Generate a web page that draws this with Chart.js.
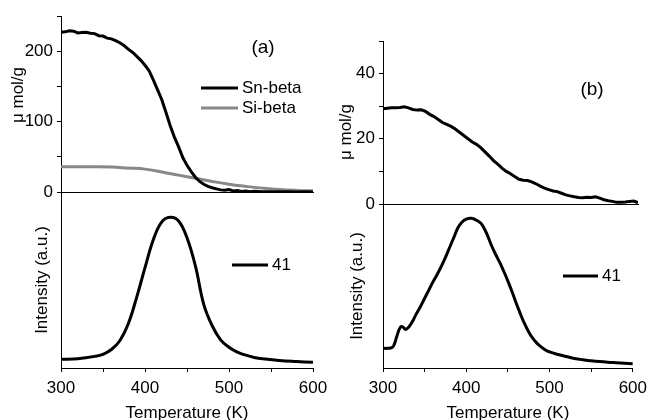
<!DOCTYPE html>
<html>
<head>
<meta charset="utf-8">
<script src="https://cdn.jsdelivr.net/npm/chart.js@4/dist/chart.umd.min.js"></script>
<style>
  body { margin: 0; background: #fff; }
  #wrap { position: relative; width: 653px; height: 420px; overflow: hidden; }
  .panel { position: absolute; left: 0; top: 0; width: 653px; height: 420px; }
</style>
</head>
<body>
<div id="wrap">
  <div class="panel"><canvas id="a-uptake"></canvas></div>
  <div class="panel"><canvas id="a-tpd"></canvas></div>
  <div class="panel"><canvas id="b-uptake"></canvas></div>
  <div class="panel"><canvas id="b-tpd"></canvas></div>
</div>
<script>
// Data (temperature in K)
const snTemp = [300, 305, 310, 315, 320, 325, 330, 335, 340, 345, 350, 355, 360, 365, 370, 375, 380, 385, 390, 395, 400, 405, 410, 415, 420, 425, 430, 435, 440, 445, 450, 455, 460, 465, 470, 475, 480, 485, 490, 495, 500, 505, 510, 515, 520, 525, 530, 540, 550, 560, 570, 580, 590, 600];
const snBeta = [227, 227.5, 229, 228.5, 226, 226.5, 227, 225.5, 225, 222, 221.5, 218.5, 217.5, 215, 212, 208, 203, 198.5, 193, 187, 180, 172, 159, 145, 131, 113, 94, 78, 64, 49, 38, 29, 21, 15, 11, 8, 6, 4.5, 3, 2.5, 3.5, 1.5, 2, 0.8, 1.5, 0.5, 1, 0.3, 0.5, 0.2, 0.3, 0, 0.2, 0];

const siTemp = [300, 320, 340, 360, 380, 400, 420, 440, 460, 480, 500, 520, 540, 560, 580, 600];
const siBeta = [36, 36, 36, 35.5, 34, 32.5, 28.5, 24, 19.5, 15, 11, 8, 5.5, 3.5, 2.3, 1.6];

const tpdATemp = [300, 320, 340, 350, 360, 370, 380, 390, 400, 410, 420, 430, 440, 450, 460, 470, 480, 490, 500, 510, 520, 530, 540, 560, 580, 600];
const tpdA = [4.9, 5.3, 6.6, 7.8, 10.5, 15.5, 25, 40, 57, 73, 83, 85.6, 83.5, 74, 58, 36, 24, 16, 11.8, 9, 7.3, 6, 5.2, 4.3, 3.7, 3.2];

const uptakeBTemp = [300, 305, 310, 315, 320, 325, 330, 335, 340, 345, 350, 355, 360, 365, 370, 375, 380, 385, 390, 395, 400, 405, 410, 415, 420, 425, 430, 435, 440, 445, 450, 455, 460, 465, 470, 475, 480, 485, 490, 495, 500, 505, 510, 515, 520, 525, 530, 535, 540, 545, 550, 555, 560, 565, 570, 575, 580, 585, 590, 595, 600];
const uptakeB = [29.2, 29.4, 29.5, 29.5, 29.6, 29.8, 29.5, 29, 28.8, 28.9, 28.4, 27.5, 26.8, 25.9, 25, 24.4, 23.8, 23, 22, 21, 20, 19, 18.3, 17.3, 16, 14.7, 13.3, 12.2, 11, 10, 9.3, 8.4, 7.6, 7.3, 7.2, 6.8, 6.2, 5.5, 4.9, 4.4, 4, 3.8, 3.3, 2.8, 2.5, 2.2, 2, 1.9, 2.1, 2, 2.2, 1.8, 1.3, 1, 0.8, 0.5, 0.5, 0.6, 0.8, 0.9, 0.4];

const tpdBTemp = [300, 305, 311, 314, 317, 321, 324, 327, 331, 335, 340, 345, 350, 355, 360, 365, 370, 375, 380, 385, 390, 395, 400, 406, 412, 418, 424, 430, 435, 440, 445, 450, 455, 460, 465, 470, 475, 480, 485, 490, 495, 500, 510, 520, 530, 540, 550, 560, 570, 580, 590, 600];
const tpdB = [12, 12, 12.5, 15, 20, 25, 25, 23.5, 25, 28, 33, 37.5, 42.5, 47.5, 52.5, 57, 62, 67.5, 73.5, 79.5, 85.5, 89, 90.8, 91.3, 90.2, 88, 82.5, 75, 69.5, 64.5, 59, 53, 46.5, 39.5, 33, 27, 22, 18, 15, 12.8, 11, 9.8, 8.2, 7, 5.8, 5, 4.4, 3.9, 3.5, 3.2, 2.9, 2.6];

const tempTicks = [300, 400, 500, 600];

const FONT = "'Liberation Sans', Arial, sans-serif";
Chart.defaults.font.family = FONT;
Chart.defaults.color = '#000';

function points(xs, ys) {
    return xs.map((x, i) => ({ x: x, y: ys[i] }));
}

// Line sample + label for each dataset, placed inside the plot
const insetLegend = {
    id: 'insetLegend',
    afterDraw(chart, args, opts) {
        if (opts.x === undefined) return;
        const ctx = chart.ctx;
        ctx.save();
        ctx.font = '17px ' + FONT;
        ctx.textBaseline = 'middle';
        chart.data.datasets.forEach((ds, i) => {
            const y = opts.y + i * (opts.rowGap || 0);
            ctx.strokeStyle = ds.borderColor;
            ctx.lineWidth = 3;
            ctx.beginPath();
            ctx.moveTo(opts.x, y);
            ctx.lineTo(opts.x + opts.lineLen, y);
            ctx.stroke();
            ctx.fillStyle = '#000';
            ctx.fillText(ds.label, opts.x + opts.lineLen + 4, y);
        });
        ctx.restore();
    }
};

// Free text (panel letters, rotated unit labels)
const notes = {
    id: 'notes',
    afterDraw(chart, args, opts) {
        if (!opts.items) return;
        const ctx = chart.ctx;
        opts.items.forEach(n => {
            ctx.save();
            ctx.font = n.size + 'px ' + FONT;
            ctx.fillStyle = '#000';
            ctx.textAlign = 'center';
            ctx.textBaseline = 'middle';
            ctx.translate(n.x, n.y);
            if (n.rotate) ctx.rotate(-Math.PI / 2);
            ctx.fillText(n.text, 0, 0);
            ctx.restore();
        });
    }
};

Chart.register(insetLegend, notes);

function lineSet(label, xs, ys, color, smooth) {
    return {
        label: label,
        data: points(xs, ys),
        borderColor: color,
        borderWidth: 3,
        pointRadius: 0,
        fill: false,
        tension: smooth ? 0.4 : 0
    };
}

// top panels: value axis with ticks, only a base line along x
function uptakeScales(yMax, step, labelEvery, yWidth) {
    return {
        x: {
            type: 'linear', min: 300, max: 600,
            ticks: { display: false },
            grid: { display: false },
            border: { display: true, color: '#000', width: 1 },
            afterFit: s => { s.height = 0; }
        },
        y: {
            min: 0, max: yMax,
            ticks: {
                stepSize: step,
                padding: 4,
                font: { size: 17 },
                callback: v => (v % labelEvery === 0 ? v : '')
            },
            grid: { drawOnChartArea: false, drawTicks: true, tickLength: 4, color: '#000' },
            border: { display: true, color: '#000', width: 1 },
            afterFit: s => { s.width = yWidth; }
        }
    };
}

// bottom panels: temperature axis, intensity axis without ticks
function tpdScales(yWidth) {
    return {
        x: {
            type: 'linear', min: 300, max: 600,
            ticks: {
                stepSize: 50,
                padding: 6,
                autoSkip: false,
                maxRotation: 0,
                font: { size: 17 },
                callback: v => (tempTicks.includes(v) ? v : '')
            },
            grid: { drawOnChartArea: false, drawTicks: true, tickLength: 4, color: '#000' },
            border: { display: true, color: '#000', width: 1 },
            title: {
                display: true, text: 'Temperature (K)',
                font: { size: 17, lineHeight: 0.8 },
                padding: { top: 0, bottom: 0 }
            },
            afterFit: s => { s.height = 52; }
        },
        y: {
            min: 0, max: 100,
            ticks: { display: false },
            grid: { display: false },
            border: { display: true, color: '#000', width: 1 },
            title: {
                display: true, text: 'Intensity (a.u.)',
                font: { size: 17 },
                padding: { top: 4, bottom: 4 }
            },
            afterFit: s => { s.width = yWidth; }
        }
    };
}

function makeChart(id, datasets, scales, padding, plugins) {
    return new Chart(document.getElementById(id), {
        type: 'line',
        data: { datasets: datasets },
        options: {
            responsive: true,
            maintainAspectRatio: false,
            animation: false,
            events: [],
            layout: { padding: padding },
            scales: scales,
            plugins: Object.assign({ legend: { display: false }, tooltip: { enabled: false } }, plugins)
        }
    });
}

// (a) uptake
makeChart('a-uptake', [
    lineSet('Sn-beta', snTemp, snBeta, '#000', false),
    lineSet('Si-beta', siTemp, siBeta, '#888', true)
], uptakeScales(250, 50, 100, 40), { left: 21, top: 16, right: 340, bottom: 228 }, {
    insetLegend: { x: 201, y: 88, rowGap: 20, lineLen: 37 },
    notes: { items: [
        { text: '(a)', x: 263, y: 48, size: 19 },
        { text: 'μ mol/g', x: 18, y: 95, size: 17, rotate: true }
    ] }
});

// (a) TPD
makeChart('a-tpd', [
    lineSet('41', tpdATemp, tpdA, '#000', true)
], tpdScales(33), { left: 28, top: 192, right: 340, bottom: 0 }, {
    insetLegend: { x: 232, y: 265, lineLen: 36 }
});

// (b) uptake
makeChart('b-uptake', [
    lineSet('Sn-beta', uptakeBTemp, uptakeB, '#000', false)
], uptakeScales(50, 10, 20, 40), { left: 343, top: 41, right: 15, bottom: 216 }, {
    notes: { items: [
        { text: '(b)', x: 592, y: 90, size: 19 },
        { text: 'μ mol/g', x: 346, y: 132, size: 17, rotate: true }
    ] }
});

// (b) TPD
makeChart('b-tpd', [
    lineSet('41', tpdBTemp, tpdB, '#000', true)
], tpdScales(40), { left: 343, top: 204, right: 15, bottom: 0 }, {
    insetLegend: { x: 563, y: 276, lineLen: 35 }
});
</script>
</body>
</html>
